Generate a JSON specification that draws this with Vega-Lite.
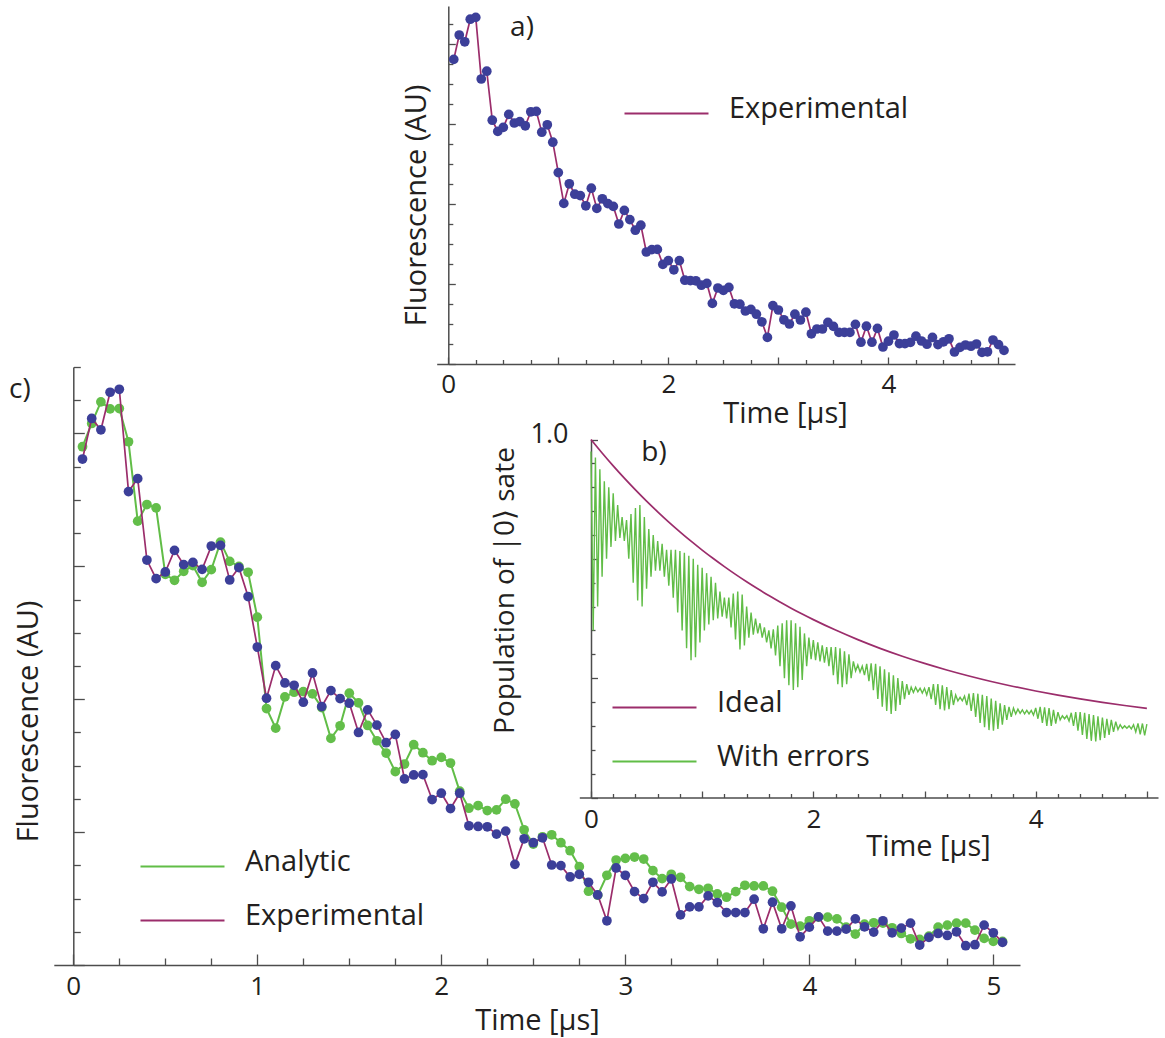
{
  "$schema": "https://vega.github.io/schema/vega-lite/v6.json",
  "width": 1165,
  "height": 1038,
  "autosize": "none",
  "padding": 0,
  "background": "white",
  "config": {
    "view": {"stroke": null},
    "font": "Open Sans",
    "axis": {
      "grid": false,
      "domainColor": "#4d4d4d",
      "domainWidth": 1.5,
      "domainCap": "butt",
      "tickColor": "#4d4d4d",
      "tickWidth": 1.3,
      "labelFont": "Open Sans",
      "labelFontSize": 26,
      "labelColor": "#231f20",
      "labelOverlap": false,
      "labelFlush": false,
      "titleFont": "Open Sans",
      "titleFontSize": 29,
      "titleFontWeight": "normal",
      "titleColor": "#231f20",
      "titleBaseline": "middle",
      "titleAlign": "center"
    },
    "legend": {
      "labelFont": "Open Sans",
      "labelFontSize": 29,
      "labelColor": "#231f20",
      "labelBaseline": "middle",
      "labelLimit": 0
    },
    "text": {"font": "Open Sans", "fontSize": 28, "color": "#231f20"}
  },
  "datasets": {
    "panels": [{"panel": "a)"}, {"panel": "b)"}, {"panel": "c)"}],
    "fluor": [
      {"t": 0.05, "Analytic": 15.60, "Experimental": 15.23},
      {"t": 0.10, "Analytic": 16.30, "Experimental": 16.45},
      {"t": 0.15, "Analytic": 16.95, "Experimental": 16.11},
      {"t": 0.20, "Analytic": 16.74, "Experimental": 17.24},
      {"t": 0.25, "Analytic": 16.75, "Experimental": 17.33},
      {"t": 0.30, "Analytic": 15.75, "Experimental": 14.25},
      {"t": 0.35, "Analytic": 13.36, "Experimental": 14.64},
      {"t": 0.40, "Analytic": 13.86, "Experimental": 12.19},
      {"t": 0.45, "Analytic": 13.76, "Experimental": 11.63},
      {"t": 0.50, "Analytic": 11.76, "Experimental": 11.83},
      {"t": 0.55, "Analytic": 11.58, "Experimental": 12.48},
      {"t": 0.60, "Analytic": 11.85, "Experimental": 12.05},
      {"t": 0.65, "Analytic": 12.02, "Experimental": 12.12},
      {"t": 0.70, "Analytic": 11.52, "Experimental": 11.91},
      {"t": 0.75, "Analytic": 11.90, "Experimental": 12.61},
      {"t": 0.80, "Analytic": 12.73, "Experimental": 12.63},
      {"t": 0.85, "Analytic": 12.15, "Experimental": 11.59},
      {"t": 0.90, "Analytic": 12.00, "Experimental": 11.96},
      {"t": 0.95, "Analytic": 11.82, "Experimental": 11.09},
      {"t": 1.00, "Analytic": 10.47, "Experimental": 9.57},
      {"t": 1.05, "Analytic": 7.72, "Experimental": 8.03},
      {"t": 1.10, "Analytic": 7.13, "Experimental": 9.01},
      {"t": 1.15, "Analytic": 8.07, "Experimental": 8.49},
      {"t": 1.20, "Analytic": 8.21, "Experimental": 8.42},
      {"t": 1.25, "Analytic": 8.23, "Experimental": 7.91},
      {"t": 1.30, "Analytic": 8.16, "Experimental": 8.79},
      {"t": 1.35, "Analytic": 7.75, "Experimental": 7.78},
      {"t": 1.40, "Analytic": 6.82, "Experimental": 8.26},
      {"t": 1.45, "Analytic": 7.20, "Experimental": 8.02},
      {"t": 1.50, "Analytic": 8.18, "Experimental": 7.88},
      {"t": 1.55, "Analytic": 7.89, "Experimental": 7.00},
      {"t": 1.60, "Analytic": 7.21, "Experimental": 7.68},
      {"t": 1.65, "Analytic": 6.75, "Experimental": 7.22},
      {"t": 1.70, "Analytic": 6.38, "Experimental": 6.69},
      {"t": 1.75, "Analytic": 5.82, "Experimental": 6.94},
      {"t": 1.80, "Analytic": 6.05, "Experimental": 5.60},
      {"t": 1.85, "Analytic": 6.63, "Experimental": 5.72},
      {"t": 1.90, "Analytic": 6.39, "Experimental": 5.73},
      {"t": 1.95, "Analytic": 6.15, "Experimental": 4.98},
      {"t": 2.00, "Analytic": 6.25, "Experimental": 5.17},
      {"t": 2.05, "Analytic": 6.08, "Experimental": 4.71},
      {"t": 2.10, "Analytic": 5.23, "Experimental": 5.17},
      {"t": 2.15, "Analytic": 4.72, "Experimental": 4.19},
      {"t": 2.20, "Analytic": 4.80, "Experimental": 4.17},
      {"t": 2.25, "Analytic": 4.65, "Experimental": 4.16},
      {"t": 2.30, "Analytic": 4.67, "Experimental": 3.94},
      {"t": 2.35, "Analytic": 4.99, "Experimental": 4.03},
      {"t": 2.40, "Analytic": 4.85, "Experimental": 3.03},
      {"t": 2.45, "Analytic": 4.07, "Experimental": 3.80},
      {"t": 2.50, "Analytic": 3.64, "Experimental": 3.68},
      {"t": 2.55, "Analytic": 3.86, "Experimental": 3.83},
      {"t": 2.60, "Analytic": 3.92, "Experimental": 3.01},
      {"t": 2.65, "Analytic": 3.68, "Experimental": 2.99},
      {"t": 2.70, "Analytic": 3.44, "Experimental": 2.65},
      {"t": 2.75, "Analytic": 2.96, "Experimental": 2.73},
      {"t": 2.80, "Analytic": 2.22, "Experimental": 2.49},
      {"t": 2.85, "Analytic": 2.10, "Experimental": 2.11},
      {"t": 2.90, "Analytic": 2.70, "Experimental": 1.33},
      {"t": 2.95, "Analytic": 3.16, "Experimental": 2.92},
      {"t": 3.00, "Analytic": 3.21, "Experimental": 2.70},
      {"t": 3.05, "Analytic": 3.25, "Experimental": 2.21},
      {"t": 3.10, "Analytic": 3.19, "Experimental": 2.00},
      {"t": 3.15, "Analytic": 2.84, "Experimental": 2.49},
      {"t": 3.20, "Analytic": 2.60, "Experimental": 2.20},
      {"t": 3.25, "Analytic": 2.73, "Experimental": 2.59},
      {"t": 3.30, "Analytic": 2.64, "Experimental": 1.51},
      {"t": 3.35, "Analytic": 2.36, "Experimental": 1.75},
      {"t": 3.40, "Analytic": 2.28, "Experimental": 1.75},
      {"t": 3.45, "Analytic": 2.31, "Experimental": 2.08},
      {"t": 3.50, "Analytic": 2.14, "Experimental": 1.88},
      {"t": 3.55, "Analytic": 2.04, "Experimental": 1.58},
      {"t": 3.60, "Analytic": 2.21, "Experimental": 1.58},
      {"t": 3.65, "Analytic": 2.40, "Experimental": 1.58},
      {"t": 3.70, "Analytic": 2.38, "Experimental": 1.98},
      {"t": 3.75, "Analytic": 2.38, "Experimental": 1.09},
      {"t": 3.80, "Analytic": 2.22, "Experimental": 1.89},
      {"t": 3.85, "Analytic": 1.74, "Experimental": 1.09},
      {"t": 3.90, "Analytic": 1.23, "Experimental": 1.78},
      {"t": 3.95, "Analytic": 1.17, "Experimental": 0.85},
      {"t": 4.00, "Analytic": 1.33, "Experimental": 1.14},
      {"t": 4.05, "Analytic": 1.44, "Experimental": 1.45},
      {"t": 4.10, "Analytic": 1.44, "Experimental": 1.02},
      {"t": 4.15, "Analytic": 1.39, "Experimental": 1.02},
      {"t": 4.20, "Analytic": 1.14, "Experimental": 1.08},
      {"t": 4.25, "Analytic": 0.93, "Experimental": 1.39},
      {"t": 4.30, "Analytic": 1.23, "Experimental": 1.15},
      {"t": 4.35, "Analytic": 1.27, "Experimental": 0.99},
      {"t": 4.40, "Analytic": 1.26, "Experimental": 1.33},
      {"t": 4.45, "Analytic": 1.12, "Experimental": 0.97},
      {"t": 4.50, "Analytic": 0.95, "Experimental": 1.11},
      {"t": 4.55, "Analytic": 0.79, "Experimental": 1.26},
      {"t": 4.60, "Analytic": 0.77, "Experimental": 0.60},
      {"t": 4.65, "Analytic": 0.87, "Experimental": 0.83},
      {"t": 4.70, "Analytic": 1.14, "Experimental": 0.95},
      {"t": 4.75, "Analytic": 1.20, "Experimental": 0.89},
      {"t": 4.80, "Analytic": 1.26, "Experimental": 1.00},
      {"t": 4.85, "Analytic": 1.26, "Experimental": 0.58},
      {"t": 4.90, "Analytic": 1.05, "Experimental": 0.61},
      {"t": 4.95, "Analytic": 0.80, "Experimental": 1.20},
      {"t": 5.00, "Analytic": 0.71, "Experimental": 0.97},
      {"t": 5.05, "Analytic": 0.71, "Experimental": 0.68}
    ],
    "ideal": [
      {"t": 0, "Ideal": 1.0}, {"t": 0.1, "Ideal": 0.9774}, {"t": 0.2, "Ideal": 0.9558},
      {"t": 0.3, "Ideal": 0.9352}, {"t": 0.4, "Ideal": 0.9155}, {"t": 0.5, "Ideal": 0.8967},
      {"t": 0.6, "Ideal": 0.8788}, {"t": 0.7, "Ideal": 0.8616}, {"t": 0.8, "Ideal": 0.8453},
      {"t": 0.9, "Ideal": 0.8296}, {"t": 1.0, "Ideal": 0.8147}, {"t": 1.1, "Ideal": 0.8005},
      {"t": 1.2, "Ideal": 0.7869}, {"t": 1.3, "Ideal": 0.7739}, {"t": 1.4, "Ideal": 0.7615},
      {"t": 1.5, "Ideal": 0.7497}, {"t": 1.6, "Ideal": 0.7384}, {"t": 1.7, "Ideal": 0.7276},
      {"t": 1.8, "Ideal": 0.7173}, {"t": 1.9, "Ideal": 0.7075}, {"t": 2.0, "Ideal": 0.6981},
      {"t": 2.2, "Ideal": 0.6806}, {"t": 2.4, "Ideal": 0.6646}, {"t": 2.6, "Ideal": 0.6500},
      {"t": 2.8, "Ideal": 0.6368}, {"t": 3.0, "Ideal": 0.6247}, {"t": 3.2, "Ideal": 0.6137},
      {"t": 3.4, "Ideal": 0.6036}, {"t": 3.6, "Ideal": 0.5944}, {"t": 3.8, "Ideal": 0.5861},
      {"t": 4.0, "Ideal": 0.5785}, {"t": 4.2, "Ideal": 0.5715}, {"t": 4.4, "Ideal": 0.5652},
      {"t": 4.6, "Ideal": 0.5594}, {"t": 4.8, "Ideal": 0.5542}, {"t": 5.0, "Ideal": 0.5494}
    ],
    "errors": [
      {"t": 0, "With errors": 0.98}, {"t": 0.02, "With errors": 0.68}, {"t": 0.04, "With errors": 0.97}, {"t": 0.06, "With errors": 0.72},
      {"t": 0.08, "With errors": 0.95}, {"t": 0.1, "With errors": 0.77}, {"t": 0.12, "With errors": 0.93}, {"t": 0.14, "With errors": 0.8},
      {"t": 0.16, "With errors": 0.92}, {"t": 0.18, "With errors": 0.82}, {"t": 0.2, "With errors": 0.91}, {"t": 0.22, "With errors": 0.83},
      {"t": 0.24, "With errors": 0.89}, {"t": 0.26, "With errors": 0.835}, {"t": 0.28, "With errors": 0.87}, {"t": 0.3, "With errors": 0.83},
      {"t": 0.32, "With errors": 0.865}, {"t": 0.34, "With errors": 0.8}, {"t": 0.36, "With errors": 0.875}, {"t": 0.38, "With errors": 0.76},
      {"t": 0.4, "With errors": 0.885}, {"t": 0.42, "With errors": 0.73}, {"t": 0.44, "With errors": 0.89}, {"t": 0.46, "With errors": 0.72},
      {"t": 0.48, "With errors": 0.87}, {"t": 0.5, "With errors": 0.75}, {"t": 0.52, "With errors": 0.85}, {"t": 0.54, "With errors": 0.77},
      {"t": 0.56, "With errors": 0.84}, {"t": 0.58, "With errors": 0.78}, {"t": 0.6, "With errors": 0.83}, {"t": 0.62, "With errors": 0.78},
      {"t": 0.64, "With errors": 0.825}, {"t": 0.66, "With errors": 0.77}, {"t": 0.68, "With errors": 0.815}, {"t": 0.7, "With errors": 0.755},
      {"t": 0.72, "With errors": 0.815}, {"t": 0.74, "With errors": 0.735}, {"t": 0.76, "With errors": 0.815}, {"t": 0.78, "With errors": 0.71},
      {"t": 0.8, "With errors": 0.813}, {"t": 0.82, "With errors": 0.68}, {"t": 0.84, "With errors": 0.81}, {"t": 0.86, "With errors": 0.65},
      {"t": 0.88, "With errors": 0.805}, {"t": 0.9, "With errors": 0.63}, {"t": 0.92, "With errors": 0.8}, {"t": 0.94, "With errors": 0.635},
      {"t": 0.96, "With errors": 0.79}, {"t": 0.98, "With errors": 0.66}, {"t": 1, "With errors": 0.785}, {"t": 1.02, "With errors": 0.68},
      {"t": 1.04, "With errors": 0.776}, {"t": 1.06, "With errors": 0.69}, {"t": 1.08, "With errors": 0.77}, {"t": 1.1, "With errors": 0.697},
      {"t": 1.12, "With errors": 0.76}, {"t": 1.14, "With errors": 0.7}, {"t": 1.16, "With errors": 0.745}, {"t": 1.18, "With errors": 0.703},
      {"t": 1.2, "With errors": 0.735}, {"t": 1.22, "With errors": 0.7}, {"t": 1.24, "With errors": 0.735}, {"t": 1.26, "With errors": 0.685},
      {"t": 1.28, "With errors": 0.742}, {"t": 1.3, "With errors": 0.665}, {"t": 1.32, "With errors": 0.745}, {"t": 1.34, "With errors": 0.648},
      {"t": 1.36, "With errors": 0.74}, {"t": 1.38, "With errors": 0.655}, {"t": 1.4, "With errors": 0.72}, {"t": 1.42, "With errors": 0.668},
      {"t": 1.44, "With errors": 0.71}, {"t": 1.46, "With errors": 0.673}, {"t": 1.48, "With errors": 0.7}, {"t": 1.5, "With errors": 0.675},
      {"t": 1.52, "With errors": 0.692}, {"t": 1.54, "With errors": 0.668}, {"t": 1.56, "With errors": 0.685}, {"t": 1.58, "With errors": 0.66},
      {"t": 1.6, "With errors": 0.68}, {"t": 1.62, "With errors": 0.65}, {"t": 1.64, "With errors": 0.682}, {"t": 1.66, "With errors": 0.638},
      {"t": 1.68, "With errors": 0.688}, {"t": 1.7, "With errors": 0.62}, {"t": 1.72, "With errors": 0.692}, {"t": 1.74, "With errors": 0.6},
      {"t": 1.76, "With errors": 0.697}, {"t": 1.78, "With errors": 0.588}, {"t": 1.8, "With errors": 0.697}, {"t": 1.82, "With errors": 0.58},
      {"t": 1.84, "With errors": 0.692}, {"t": 1.86, "With errors": 0.585}, {"t": 1.88, "With errors": 0.686}, {"t": 1.9, "With errors": 0.597},
      {"t": 1.92, "With errors": 0.675}, {"t": 1.94, "With errors": 0.62}, {"t": 1.96, "With errors": 0.668}, {"t": 1.98, "With errors": 0.632},
      {"t": 2, "With errors": 0.664}, {"t": 2.02, "With errors": 0.63}, {"t": 2.04, "With errors": 0.66}, {"t": 2.06, "With errors": 0.628},
      {"t": 2.08, "With errors": 0.655}, {"t": 2.1, "With errors": 0.626}, {"t": 2.12, "With errors": 0.652}, {"t": 2.14, "With errors": 0.62},
      {"t": 2.16, "With errors": 0.652}, {"t": 2.18, "With errors": 0.605}, {"t": 2.2, "With errors": 0.652}, {"t": 2.22, "With errors": 0.59},
      {"t": 2.24, "With errors": 0.65}, {"t": 2.26, "With errors": 0.585}, {"t": 2.28, "With errors": 0.645}, {"t": 2.3, "With errors": 0.59},
      {"t": 2.32, "With errors": 0.64}, {"t": 2.34, "With errors": 0.6}, {"t": 2.36, "With errors": 0.628}, {"t": 2.38, "With errors": 0.612},
      {"t": 2.4, "With errors": 0.622}, {"t": 2.42, "With errors": 0.61}, {"t": 2.44, "With errors": 0.62}, {"t": 2.46, "With errors": 0.605},
      {"t": 2.48, "With errors": 0.624}, {"t": 2.5, "With errors": 0.595}, {"t": 2.52, "With errors": 0.625}, {"t": 2.54, "With errors": 0.58},
      {"t": 2.56, "With errors": 0.624}, {"t": 2.58, "With errors": 0.565}, {"t": 2.6, "With errors": 0.62}, {"t": 2.62, "With errors": 0.552},
      {"t": 2.64, "With errors": 0.615}, {"t": 2.66, "With errors": 0.545}, {"t": 2.68, "With errors": 0.61}, {"t": 2.7, "With errors": 0.54},
      {"t": 2.72, "With errors": 0.605}, {"t": 2.74, "With errors": 0.545}, {"t": 2.76, "With errors": 0.6}, {"t": 2.78, "With errors": 0.555},
      {"t": 2.8, "With errors": 0.595}, {"t": 2.82, "With errors": 0.565}, {"t": 2.84, "With errors": 0.59}, {"t": 2.86, "With errors": 0.572},
      {"t": 2.88, "With errors": 0.585}, {"t": 2.9, "With errors": 0.576}, {"t": 2.92, "With errors": 0.585}, {"t": 2.94, "With errors": 0.577},
      {"t": 2.96, "With errors": 0.583}, {"t": 2.98, "With errors": 0.575}, {"t": 3, "With errors": 0.583}, {"t": 3.02, "With errors": 0.572},
      {"t": 3.04, "With errors": 0.585}, {"t": 3.06, "With errors": 0.565}, {"t": 3.08, "With errors": 0.59}, {"t": 3.1, "With errors": 0.555},
      {"t": 3.12, "With errors": 0.59}, {"t": 3.14, "With errors": 0.548}, {"t": 3.16, "With errors": 0.588}, {"t": 3.18, "With errors": 0.546},
      {"t": 3.2, "With errors": 0.585}, {"t": 3.22, "With errors": 0.548}, {"t": 3.24, "With errors": 0.58}, {"t": 3.26, "With errors": 0.555},
      {"t": 3.28, "With errors": 0.572}, {"t": 3.3, "With errors": 0.562}, {"t": 3.32, "With errors": 0.568}, {"t": 3.34, "With errors": 0.562},
      {"t": 3.36, "With errors": 0.57}, {"t": 3.38, "With errors": 0.555}, {"t": 3.4, "With errors": 0.574}, {"t": 3.42, "With errors": 0.545},
      {"t": 3.44, "With errors": 0.575}, {"t": 3.46, "With errors": 0.535}, {"t": 3.48, "With errors": 0.574}, {"t": 3.5, "With errors": 0.525},
      {"t": 3.52, "With errors": 0.572}, {"t": 3.54, "With errors": 0.518}, {"t": 3.56, "With errors": 0.57}, {"t": 3.58, "With errors": 0.513},
      {"t": 3.6, "With errors": 0.566}, {"t": 3.62, "With errors": 0.512}, {"t": 3.64, "With errors": 0.562}, {"t": 3.66, "With errors": 0.515},
      {"t": 3.68, "With errors": 0.558}, {"t": 3.7, "With errors": 0.522}, {"t": 3.72, "With errors": 0.555}, {"t": 3.74, "With errors": 0.53},
      {"t": 3.76, "With errors": 0.552}, {"t": 3.78, "With errors": 0.535}, {"t": 3.8, "With errors": 0.55}, {"t": 3.82, "With errors": 0.54},
      {"t": 3.84, "With errors": 0.548}, {"t": 3.86, "With errors": 0.541}, {"t": 3.88, "With errors": 0.547}, {"t": 3.9, "With errors": 0.54},
      {"t": 3.92, "With errors": 0.546}, {"t": 3.94, "With errors": 0.54}, {"t": 3.96, "With errors": 0.546}, {"t": 3.98, "With errors": 0.538},
      {"t": 4, "With errors": 0.55}, {"t": 4.02, "With errors": 0.532}, {"t": 4.04, "With errors": 0.552}, {"t": 4.06, "With errors": 0.525},
      {"t": 4.08, "With errors": 0.551}, {"t": 4.1, "With errors": 0.52}, {"t": 4.12, "With errors": 0.55}, {"t": 4.14, "With errors": 0.52},
      {"t": 4.16, "With errors": 0.547}, {"t": 4.18, "With errors": 0.524}, {"t": 4.2, "With errors": 0.543}, {"t": 4.22, "With errors": 0.53},
      {"t": 4.24, "With errors": 0.537}, {"t": 4.26, "With errors": 0.532}, {"t": 4.28, "With errors": 0.537}, {"t": 4.3, "With errors": 0.528},
      {"t": 4.32, "With errors": 0.542}, {"t": 4.34, "With errors": 0.52}, {"t": 4.36, "With errors": 0.543}, {"t": 4.38, "With errors": 0.512},
      {"t": 4.4, "With errors": 0.543}, {"t": 4.42, "With errors": 0.505}, {"t": 4.44, "With errors": 0.542}, {"t": 4.46, "With errors": 0.498},
      {"t": 4.48, "With errors": 0.54}, {"t": 4.5, "With errors": 0.495}, {"t": 4.52, "With errors": 0.538}, {"t": 4.54, "With errors": 0.494},
      {"t": 4.56, "With errors": 0.536}, {"t": 4.58, "With errors": 0.496}, {"t": 4.6, "With errors": 0.534}, {"t": 4.62, "With errors": 0.5},
      {"t": 4.64, "With errors": 0.532}, {"t": 4.66, "With errors": 0.505}, {"t": 4.68, "With errors": 0.53}, {"t": 4.7, "With errors": 0.51},
      {"t": 4.72, "With errors": 0.527}, {"t": 4.74, "With errors": 0.514}, {"t": 4.76, "With errors": 0.522}, {"t": 4.78, "With errors": 0.516},
      {"t": 4.8, "With errors": 0.52}, {"t": 4.82, "With errors": 0.516}, {"t": 4.84, "With errors": 0.52}, {"t": 4.86, "With errors": 0.515},
      {"t": 4.88, "With errors": 0.522}, {"t": 4.9, "With errors": 0.51}, {"t": 4.92, "With errors": 0.524}, {"t": 4.94, "With errors": 0.506},
      {"t": 4.96, "With errors": 0.524}, {"t": 4.98, "With errors": 0.504}, {"t": 5, "With errors": 0.523}
    ]
  },
  "layer": [
    {
      "data": {"name": "fluor"},
      "layer": [
        {
          "transform": [{"fold": ["Analytic", "Experimental"], "as": ["series", "v"]}, {"filter": "datum.series === 'Analytic'"}],
          "mark": {"type": "line", "strokeWidth": 2},
          "encoding": {
            "x": {
              "field": "t", "type": "quantitative",
              "scale": {"domain": [-0.106, 5.145], "range": [53.8, 1020], "nice": false, "zero": false},
              "axis": {
                "orient": "bottom", "offset": -73,
                "values": [0, 0.25, 0.5, 0.75, 1, 1.25, 1.5, 1.75, 2, 2.25, 2.5, 2.75, 3, 3.25, 3.5, 3.75, 4, 4.25, 4.5, 4.75, 5],
                "labelExpr": "datum.value % 1 === 0 ? format(datum.value, 'd') : ''",
                "tickSize": {"condition": {"test": "datum.value % 1 === 0", "value": -11}, "value": -7},
                "labelPadding": 19,
                "title": "Time [µs]", "titleX": 537, "titleY": 55
              }
            },
            "y": {
              "field": "v", "type": "quantitative",
              "scale": {"domain": [0, 18], "range": [965, 367], "nice": false, "zero": false},
              "axis": {
                "orient": "left", "offset": -73.3,
                "values": [0, 1, 2, 3, 4, 5, 6, 7, 8, 9, 10, 11, 12, 13, 14, 15, 16, 17, 18],
                "labels": false,
                "tickSize": {"condition": {"test": "datum.value % 4 === 0", "value": -11}, "value": -7},
                "title": "Fluorescence (AU)", "titleAngle": -90, "titleX": -45, "titleY": 721
              }
            },
            "color": {
              "field": "series", "type": "nominal",
              "scale": {"domain": ["Analytic", "Experimental"], "range": ["#61bd47", "#9b2d6b"]},
              "legend": {"orient": "none", "legendX": 134, "legendY": 847.5, "title": null, "symbolType": "M-6,0.65H6", "symbolSize": 196, "symbolStrokeWidth": 2, "symbolOffset": 34, "labelOffset": 48, "rowPadding": 24, "padding": 0}
            }
          }
        },
        {
          "transform": [{"fold": ["Analytic", "Experimental"], "as": ["series", "v"]}, {"filter": "datum.series === 'Analytic'"}],
          "mark": {"type": "circle", "size": 95, "opacity": 1, "color": "#63be4a"},
          "encoding": {
            "x": {"field": "t", "type": "quantitative", "title": "Time [µs]"},
            "y": {"field": "v", "type": "quantitative", "title": "Fluorescence (AU)"}
          }
        },
        {
          "transform": [{"fold": ["Analytic", "Experimental"], "as": ["series", "v"]}, {"filter": "datum.series === 'Experimental'"}],
          "mark": {"type": "line", "strokeWidth": 1.7},
          "encoding": {
            "x": {"field": "t", "type": "quantitative", "title": "Time [µs]"},
            "y": {"field": "v", "type": "quantitative", "title": "Fluorescence (AU)"},
            "color": {
              "field": "series", "type": "nominal",
              "scale": {"domain": ["Analytic", "Experimental"], "range": ["#61bd47", "#9b2d6b"]},
              "legend": {"orient": "none", "legendX": 134, "legendY": 847.5, "title": null, "symbolType": "M-6,0.65H6", "symbolSize": 196, "symbolStrokeWidth": 2, "symbolOffset": 34, "labelOffset": 48, "rowPadding": 24, "padding": 0}
            }
          }
        },
        {
          "transform": [{"fold": ["Analytic", "Experimental"], "as": ["series", "v"]}, {"filter": "datum.series === 'Experimental'"}],
          "mark": {"type": "circle", "size": 95, "opacity": 1, "color": "#3c3f99"},
          "encoding": {
            "x": {"field": "t", "type": "quantitative", "title": "Time [µs]"},
            "y": {"field": "v", "type": "quantitative", "title": "Fluorescence (AU)"}
          }
        },
        {
          "data": {"name": "panels"},
          "transform": [{"filter": "datum.panel === 'c)'"}],
          "mark": {"type": "text", "align": "center", "baseline": "middle"},
          "encoding": {
            "x": {"datum": -0.29, "type": "quantitative", "title": "Time [µs]"},
            "y": {"datum": 17.3, "type": "quantitative", "title": "Fluorescence (AU)"},
            "text": {"field": "panel", "type": "nominal"}
          }
        }
      ]
    },
    {
      "layer": [
        {
          "data": {"name": "ideal"},
          "transform": [{"fold": ["Ideal"], "as": ["series", "v"]}],
          "mark": {"type": "line", "strokeWidth": 1.7, "interpolate": "monotone"},
          "encoding": {
            "x": {
              "field": "t", "type": "quantitative",
              "scale": {"domain": [-0.105, 5.1], "range": [579.3, 1158], "nice": false, "zero": false},
              "axis": {
                "orient": "bottom", "offset": -240.5,
                "values": [0, 0.2, 0.4, 0.6, 0.8, 1, 1.2, 1.4, 1.6, 1.8, 2, 2.2, 2.4, 2.6, 2.8, 3, 3.2, 3.4, 3.6, 3.8, 4, 4.2, 4.4, 4.6, 4.8, 5],
                "labelExpr": "datum.value % 2 === 0 ? format(datum.value, 'd') : ''",
                "tickSize": {"condition": {"test": "datum.value % 1 === 0", "value": -6.5}, "value": -4},
                "labelPadding": 15.5,
                "title": "Time [µs]", "titleX": 928, "titleY": 49
              }
            },
            "y": {
              "field": "v", "type": "quantitative",
              "scale": {"domain": [0.4, 1.0], "range": [797.5, 439.5], "nice": false, "zero": false},
              "axis": {
                "orient": "left", "offset": -591,
                "values": [0.4, 0.42, 0.44, 0.46, 0.48, 0.5, 0.52, 0.54, 0.56, 0.58, 0.6, 0.62, 0.64, 0.66, 0.68, 0.7, 0.72, 0.74, 0.76, 0.78, 0.8, 0.82, 0.84, 0.86, 0.88, 0.9, 0.92, 0.94, 0.96, 0.98, 1],
                "labelExpr": "round(datum.value * 100) % 50 === 0 ? format(datum.value, '.1f') : ''",
                "tickSize": {"condition": {"test": "round(datum.value * 100) % 10 === 0", "value": -6.5}, "value": -4},
                "labelPadding": 29.5,
                "labelFontSize": 27,
                "labelOffset": -5,
                "title": "Population of |0⟩ sate", "titleFontSize": 28, "titleAngle": -90, "titleX": -86, "titleY": 590
              }
            },
            "color": {
              "field": "series", "type": "nominal",
              "scale": {"domain": ["Ideal", "With errors"], "range": ["#9b2d6b", "#61bd47"]},
              "legend": {"orient": "none", "legendX": 606, "legendY": 688.5, "title": null, "symbolType": "M-6,0.65H6", "symbolSize": 196, "symbolStrokeWidth": 2, "symbolOffset": 34, "labelOffset": 48, "rowPadding": 24, "padding": 0}
            }
          }
        },
        {
          "data": {"name": "errors"},
          "transform": [{"fold": ["With errors"], "as": ["series", "v"]}],
          "mark": {"type": "line", "strokeWidth": 1.4},
          "encoding": {
            "x": {"field": "t", "type": "quantitative", "title": "Time [µs]"},
            "y": {"field": "v", "type": "quantitative", "title": "Population of |0⟩ sate"},
            "color": {
              "field": "series", "type": "nominal",
              "scale": {"domain": ["Ideal", "With errors"], "range": ["#9b2d6b", "#61bd47"]},
              "legend": {"orient": "none", "legendX": 606, "legendY": 688.5, "title": null, "symbolType": "M-6,0.65H6", "symbolSize": 196, "symbolStrokeWidth": 2, "symbolOffset": 34, "labelOffset": 48, "rowPadding": 24, "padding": 0}
            }
          }
        },
        {
          "data": {"name": "panels"},
          "transform": [{"filter": "datum.panel === 'b)'"}],
          "mark": {"type": "text", "align": "center", "baseline": "middle"},
          "encoding": {
            "x": {"datum": 0.567, "type": "quantitative", "title": "Time [µs]"},
            "y": {"datum": 0.977, "type": "quantitative", "title": "Population of |0⟩ sate"},
            "text": {"field": "panel", "type": "nominal"}
          }
        }
      ]
    },
    {
      "data": {"name": "fluor"},
      "layer": [
        {
          "transform": [{"fold": ["Experimental"], "as": ["series", "v"]}],
          "mark": {"type": "line", "strokeWidth": 1.7},
          "encoding": {
            "x": {
              "field": "t", "type": "quantitative",
              "scale": {"domain": [-0.105, 5.15], "range": [436.7, 1015], "nice": false, "zero": false},
              "axis": {
                "orient": "bottom", "offset": -674,
                "values": [0, 0.25, 0.5, 0.75, 1, 1.25, 1.5, 1.75, 2, 2.25, 2.5, 2.75, 3, 3.25, 3.5, 3.75, 4, 4.25, 4.5, 4.75, 5],
                "labelExpr": "datum.value % 2 === 0 ? format(datum.value, 'd') : ''",
                "tickSize": {"condition": {"test": "datum.value % 1 === 0", "value": -7}, "value": -4.5},
                "labelPadding": 14,
                "title": "Time [µs]", "titleX": 785, "titleY": 49
              }
            },
            "y": {
              "field": "v", "type": "quantitative",
              "scale": {"domain": [0, 17.9], "range": [364, 6], "nice": false, "zero": false},
              "axis": {
                "orient": "left", "offset": -448.3,
                "values": [0, 1, 2, 3, 4, 5, 6, 7, 8, 9, 10, 11, 12, 13, 14, 15, 16, 17],
                "labels": false,
                "tickSize": {"condition": {"test": "datum.value % 4 === 0", "value": -7}, "value": -4.5},
                "title": "Fluorescence (AU)", "titleAngle": -90, "titleX": -32, "titleY": 205
              }
            },
            "color": {
              "field": "series", "type": "nominal",
              "scale": {"domain": ["Experimental"], "range": ["#9b2d6b"]},
              "legend": {"orient": "none", "legendX": 618, "legendY": 94.5, "title": null, "symbolType": "M-6,0.65H6", "symbolSize": 196, "symbolStrokeWidth": 2, "symbolOffset": 34, "labelOffset": 48, "padding": 0}
            }
          }
        },
        {
          "transform": [{"fold": ["Experimental"], "as": ["series", "v"]}],
          "mark": {"type": "circle", "size": 95, "opacity": 1, "color": "#3c3f99"},
          "encoding": {
            "x": {"field": "t", "type": "quantitative", "title": "Time [µs]"},
            "y": {"field": "v", "type": "quantitative", "title": "Fluorescence (AU)"}
          }
        },
        {
          "data": {"name": "panels"},
          "transform": [{"filter": "datum.panel === 'a)'"}],
          "mark": {"type": "text", "align": "center", "baseline": "middle"},
          "encoding": {
            "x": {"datum": 0.67, "type": "quantitative", "title": "Time [µs]"},
            "y": {"datum": 16.8, "type": "quantitative", "title": "Fluorescence (AU)"},
            "text": {"field": "panel", "type": "nominal"}
          }
        }
      ]
    }
  ],
  "resolve": {
    "scale": {"x": "independent", "y": "independent", "color": "independent"},
    "axis": {"x": "independent", "y": "independent"},
    "legend": {"color": "independent"}
  }
}
